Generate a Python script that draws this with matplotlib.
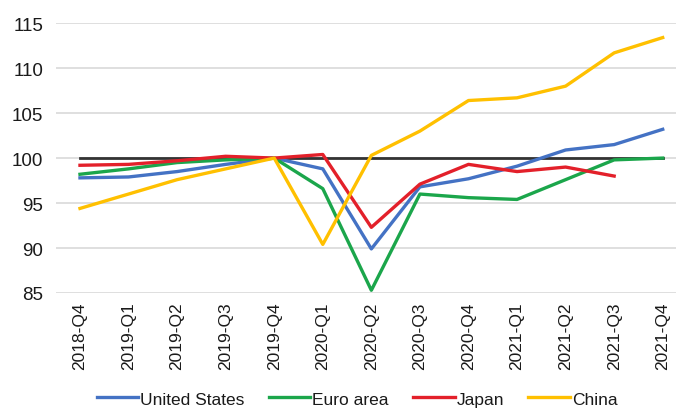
import matplotlib
matplotlib.use("Agg")
import matplotlib.pyplot as plt

plt.rcParams['font.family'] = ['Liberation Sans', 'DejaVu Sans']

quarters = ["2018-Q4", "2019-Q1", "2019-Q2", "2019-Q3", "2019-Q4", "2020-Q1",
            "2020-Q2", "2020-Q3", "2020-Q4", "2021-Q1", "2021-Q2", "2021-Q3",
            "2021-Q4"]

united_states = [97.8, 97.9, 98.5, 99.3, 100.0, 98.8, 89.9, 96.8, 97.7, 99.1, 100.9, 101.5, 103.2]
euro_area = [98.2, 98.8, 99.5, 99.8, 100.0, 96.6, 85.3, 96.0, 95.6, 95.4, 97.6, 99.8, 100.0]
japan = [99.2, 99.3, 99.7, 100.2, 100.0, 100.4, 92.3, 97.1, 99.3, 98.5, 99.0, 98.0]
china = [94.4, 96.0, 97.6, 98.8, 100.0, 90.4, 100.3, 103.0, 106.4, 106.7, 108.0, 111.7, 113.4]
baseline = [100.0] * len(quarters)

y_ticks = [85, 90, 95, 100, 105, 110, 115]

fig = plt.figure(figsize=(6.76, 4.10), dpi=100)
ax = fig.add_axes([55.7 / 676, 0.283, (687 - 55.7) / 676, 0.941 - 0.283])

x = list(range(len(quarters)))
ax.plot(x, baseline, color="#333333", lw=2.0, zorder=2)
ax.plot(x, united_states, color="#4472C4", lw=2.4, label="United States", zorder=3)
ax.plot(x, euro_area, color="#1BA64B", lw=2.4, label="Euro area", zorder=3)
ax.plot(x[:len(japan)], japan, color="#E3202A", lw=2.4, label="Japan", zorder=3)
ax.plot(x, china, color="#FFC000", lw=2.4, label="China", zorder=3)

ax.set_xlim(-0.5, len(quarters) - 0.5)
ax.set_ylim(85, 115)
ax.set_yticks(y_ticks)
ax.set_yticklabels([str(v) for v in y_ticks], fontsize=13.5, color="#1a1a1a")
ax.set_xticks(x)
ax.set_xticklabels(quarters, rotation=90, fontsize=12.5, color="#1a1a1a")
ax.tick_params(axis="both", length=0)
ax.tick_params(axis="y", pad=9)
ax.tick_params(axis="x", pad=6)

ax.grid(axis="y", color="#D9D9D9", lw=1.2, zorder=0)
for s in ax.spines.values():
    s.set_visible(False)

leg = fig.legend(loc="center", bbox_to_anchor=(357 / 676, 1 - 400 / 410), ncol=4,
                 frameon=False, fontsize=12.5, handlelength=2.4, handletextpad=0.1,
                 columnspacing=1.4)
for t in leg.get_texts():
    t.set_color("#1a1a1a")

fig.savefig("out.png", dpi=100)
